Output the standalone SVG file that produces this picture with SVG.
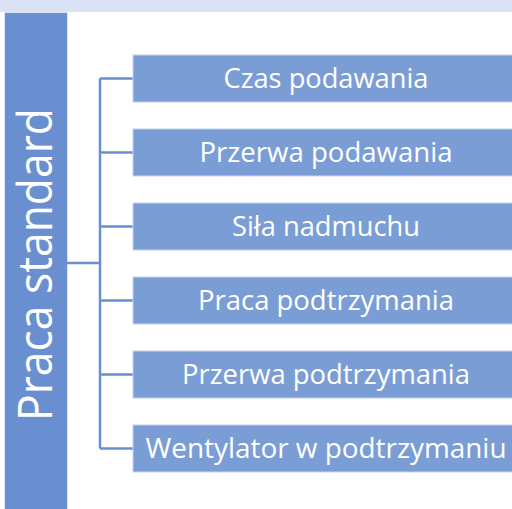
<svg xmlns="http://www.w3.org/2000/svg" width="512" height="509" viewBox="0 0 512 509">
<style>
.item{fill:#7b9dd5;stroke:#c5d3ee;stroke-width:1}
.lbl{font-family:"Open Sans",Lato,sans-serif;font-size:27px;fill:#ffffff;text-anchor:middle}
.conn{stroke:#6a8fd0;stroke-width:2.5;fill:none}
</style>
<rect x="0" y="0" width="512" height="509" fill="#ffffff"/>
<rect x="0" y="0" width="512" height="12" fill="#dae3f3"/>
<g id="root">
<rect x="4.5" y="12.5" width="63" height="497" fill="#6a8fd0" stroke="#dce4f4" stroke-width="1"/>
<text transform="translate(52,264.5) rotate(-90)" font-family="'Open Sans',Lato,sans-serif" font-size="47" fill="#ffffff" text-anchor="middle" textLength="313" lengthAdjust="spacingAndGlyphs">Praca standard</text>
</g>
<g id="connectors">
<path class="conn" d="M67 263H100M100 78.5V448.5M100 78.5H133M100 152.5H133M100 226.5H133M100 300.5H133M100 374.5H133M100 448.5H133"/>
</g>
<g id="n1"><rect class="item" x="133" y="55" width="390" height="47"/><text class="lbl" x="326" y="88" textLength="205" lengthAdjust="spacingAndGlyphs">Czas podawania</text></g>
<g id="n2"><rect class="item" x="133" y="129" width="390" height="47"/><text class="lbl" x="326" y="162" textLength="253" lengthAdjust="spacingAndGlyphs">Przerwa podawania</text></g>
<g id="n3"><rect class="item" x="133" y="203" width="390" height="47"/><text class="lbl" x="326" y="236" textLength="188" lengthAdjust="spacingAndGlyphs">Siła nadmuchu</text></g>
<g id="n4"><rect class="item" x="133" y="277" width="390" height="47"/><text class="lbl" x="326" y="310" textLength="256" lengthAdjust="spacingAndGlyphs">Praca podtrzymania</text></g>
<g id="n5"><rect class="item" x="133" y="351" width="390" height="47"/><text class="lbl" x="326" y="384" textLength="288" lengthAdjust="spacingAndGlyphs">Przerwa podtrzymania</text></g>
<g id="n6"><rect class="item" x="133" y="425" width="390" height="47"/><text class="lbl" x="326" y="458" textLength="361" lengthAdjust="spacingAndGlyphs">Wentylator w podtrzymaniu</text></g>
</svg>
